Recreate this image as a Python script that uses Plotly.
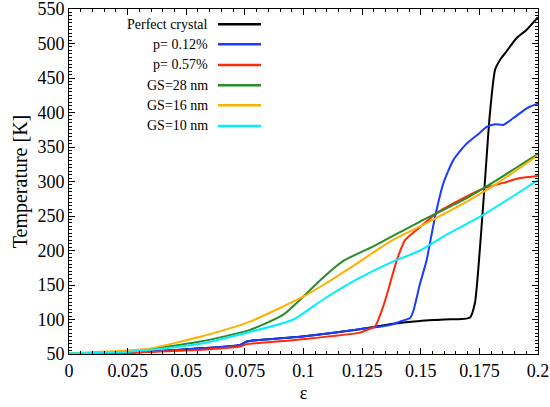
import plotly.graph_objects as go

# ---- data ----
names = ["Perfect crystal", "p= 0.12%", "p= 0.57%", "GS=28 nm", "GS=16 nm", "GS=10 nm"]
colors = ["#000000", "#1a3cff", "#ff2a0a", "#2a8c2a", "#ffb000", "#00f0ff"]

perfect_x = [0, 0.025, 0.0502, 0.0729, 0.0758, 0.0985, 0.124, 0.1383, 0.1497, 0.16, 0.171, 0.1731,
             0.1753, 0.1774, 0.1795, 0.1817, 0.1838, 0.186, 0.1909, 0.1952, 0.2]
perfect_y = [51, 52, 57, 63, 68, 75, 86, 94, 98, 100, 103, 124,
             206, 302, 399, 462, 476, 486, 508, 520, 538]

p012_x = [0, 0.025, 0.0502, 0.0729, 0.0758, 0.0985, 0.124, 0.1369, 0.1411, 0.1454, 0.1468, 0.1497,
          0.1525, 0.1561, 0.1596, 0.1639, 0.1696, 0.175, 0.1781, 0.1817, 0.1852, 0.1895, 0.1952, 0.2]
p012_y = [51, 52, 57, 63, 68, 75, 86, 92, 97, 102, 112, 152,
          186, 249, 297, 331, 355, 370, 379, 383, 382, 392, 406, 413]

p057_x = [0, 0.025, 0.05, 0.0729, 0.0758, 0.0985, 0.124, 0.127, 0.1305, 0.134, 0.1369, 0.1398,
          0.1433, 0.149, 0.1575, 0.1682, 0.1767, 0.1852, 0.1923, 0.2]
p057_y = [51, 52, 55, 61, 64, 71, 81, 85, 90, 119, 152, 186,
          215, 232, 256, 276, 290, 298, 305, 308]

gs28_x = [0, 0.0246, 0.0345, 0.0559, 0.0772, 0.0914, 0.0999, 0.1084, 0.117, 0.1298, 0.1497,
          0.1696, 0.1824, 0.2]
gs28_y = [51, 53, 57, 68, 85, 107, 133, 161, 185, 206, 242, 276, 302, 340]

gs16_x = [0, 0.0246, 0.0345, 0.0559, 0.0772, 0.0914, 0.0999, 0.1084, 0.1227, 0.1369, 0.1497,
          0.1696, 0.1824, 0.2]
gs16_y = [51, 55, 58, 75, 97, 119, 133, 150, 181, 213, 235, 271, 297, 338]

gs10_x = [0, 0.0246, 0.0345, 0.0559, 0.0772, 0.0957, 0.1084, 0.1227, 0.1369, 0.1497, 0.161,
          0.1753, 0.1895, 0.2]
gs10_y = [51, 53, 56, 65, 82, 100, 129, 158, 182, 200, 223, 249, 279, 302]

series = [(perfect_x, perfect_y), (p012_x, p012_y), (p057_x, p057_y),
          (gs28_x, gs28_y), (gs16_x, gs16_y), (gs10_x, gs10_y)]

x_ticks = [0, 0.025, 0.05, 0.075, 0.1, 0.125, 0.15, 0.175, 0.2]
x_tick_labels = ["0", "0.025", "0.05", "0.075", "0.1", "0.125", "0.15", "0.175", "0.2"]
y_ticks = [50, 100, 150, 200, 250, 300, 350, 400, 450, 500, 550]

FONT = "Liberation Serif, Times New Roman, serif"

fig = go.Figure()
for (xs, ys), name, col in zip(series, names, colors):
    fig.add_trace(go.Scatter(x=xs, y=ys, mode="lines", name=name,
                             line=dict(color=col, width=2, shape="spline", smoothing=0.6),
                             showlegend=False))

# manual legend (text left, line sample right)
leg_y = [0.9557, 0.8977, 0.8377, 0.7788, 0.7209, 0.6609]
for name, col, ly in zip(names, colors, leg_y):
    fig.add_annotation(x=0.3006, y=ly, xref="paper", yref="paper", text=name,
                       showarrow=False, xanchor="right", yanchor="middle",
                       font=dict(family=FONT, size=14, color="black"))
    fig.add_shape(type="line", xref="paper", yref="paper", x0=0.3177, x1=0.4094, y0=ly, y1=ly,
                  line=dict(color=col, width=2.5))

axis_common = dict(showline=True, linecolor="black", linewidth=1, mirror="allticks",
                   ticks="inside", ticklen=6, tickwidth=1, tickcolor="black",
                   showgrid=False, zeroline=False, automargin=False,
                   ticklabeloverflow="allow",
                   tickfont=dict(family=FONT, size=18, color="black"))

fig.update_xaxes(range=[0, 0.2], tickvals=x_ticks, ticktext=x_tick_labels,
                 minor=dict(ticks="inside", ticklen=3, dtick=0.005, tickcolor="black", showgrid=False),
                 title=dict(text="ε", font=dict(family=FONT, size=18, color="black"), standoff=6),
                 **axis_common)
fig.update_yaxes(range=[50, 550], tickvals=y_ticks,
                 minor=dict(ticks="inside", ticklen=3, dtick=5, tickcolor="black", showgrid=False),
                 title=dict(text="Temperature [K]", font=dict(family=FONT, size=20, color="black"), standoff=4),
                 **axis_common)

fig.update_layout(width=550, height=407, plot_bgcolor="white", paper_bgcolor="white",
                  margin=dict(l=69, r=12, t=9, b=53), showlegend=False)

fig.write_html("out.html")
